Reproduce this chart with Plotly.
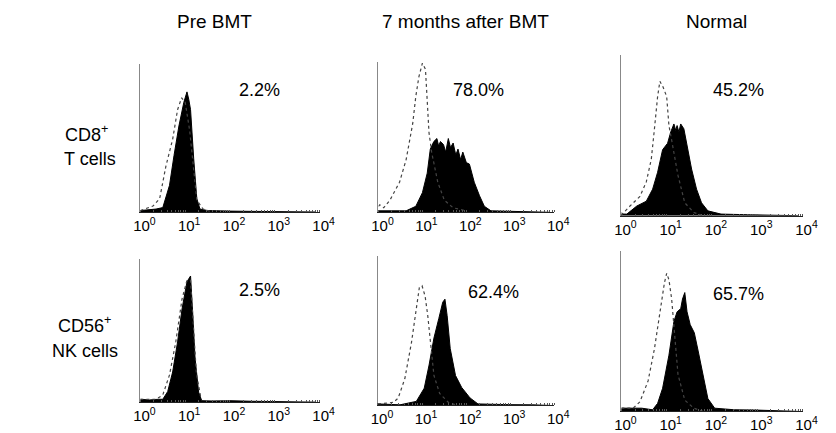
import plotly.graph_objects as go

# ---------------- data (log10 fluorescence, relative count) ----------------
col_titles = ["Pre BMT", "7 months after BMT", "Normal"]
row_titles = [["CD8<sup>+</sup>", "T cells"], ["CD56<sup>+</sup>", "NK cells"]]
percents = ["2.2%", "78.0%", "45.2%", "2.5%", "62.4%", "65.7%"]
tick_vals = [1, 10, 100, 1000, 10000]
tick_text = ["10<sup>0</sup>", "10<sup>1</sup>", "10<sup>2</sup>", "10<sup>3</sup>", "10<sup>4</sup>"]

# Panel 1: CD8, Pre BMT
p1_fill_log = [0.0, 0.2, 0.35, 0.5, 0.65, 0.75, 0.86, 0.97, 1.04, 1.08, 1.12, 1.19, 1.26, 1.33, 1.5, 2.0, 2.5, 3.0, 3.9]
p1_fill_h   = [0.01, 0.015, 0.02, 0.03, 0.18, 0.38, 0.58, 0.74, 0.81, 0.76, 0.69, 0.36, 0.09, 0.02, 0.01, 0.006, 0.004, 0.003, 0.0]
p1_dot_log  = [0.0, 0.1, 0.28, 0.43, 0.57, 0.72, 0.83, 0.92, 1.0, 1.1, 1.18, 1.26, 1.4, 1.6]
p1_dot_h    = [0.01, 0.02, 0.04, 0.09, 0.31, 0.49, 0.69, 0.77, 0.74, 0.55, 0.30, 0.08, 0.02, 0.0]

# Panel 2: CD8, 7 months after BMT
p2_fill_log = [0.0, 0.3, 0.63, 0.85, 1.0, 1.11, 1.18, 1.26, 1.33, 1.37, 1.41, 1.48, 1.53, 1.59, 1.64, 1.70, 1.76, 1.81, 1.87, 1.92, 2.0, 2.07, 2.18, 2.30, 2.41, 2.56, 3.0, 3.5, 3.9]
p2_fill_h   = [0.01, 0.01, 0.01, 0.04, 0.13, 0.26, 0.42, 0.47, 0.49, 0.44, 0.47, 0.45, 0.40, 0.49, 0.43, 0.46, 0.38, 0.42, 0.35, 0.40, 0.33, 0.32, 0.20, 0.11, 0.04, 0.01, 0.006, 0.004, 0.0]
p2_dot_log  = [0.0, 0.03, 0.12, 0.26, 0.48, 0.63, 0.78, 0.85, 0.92, 1.0, 1.07, 1.11, 1.15, 1.21, 1.35, 1.5, 1.7, 2.0]
p2_dot_h    = [0.04, 0.05, 0.03, 0.08, 0.20, 0.35, 0.59, 0.77, 0.90, 0.99, 0.95, 0.75, 0.53, 0.40, 0.20, 0.08, 0.03, 0.01]

# Panel 3: CD8, Normal
p3_fill_log = [0.0, 0.12, 0.34, 0.55, 0.69, 0.80, 0.91, 1.02, 1.09, 1.16, 1.20, 1.23, 1.27, 1.31, 1.38, 1.45, 1.55, 1.66, 1.77, 1.91, 2.2, 2.8, 3.3, 3.9]
p3_fill_h   = [0.01, 0.01, 0.06, 0.09, 0.165, 0.27, 0.41, 0.45, 0.52, 0.57, 0.53, 0.56, 0.52, 0.57, 0.54, 0.43, 0.29, 0.165, 0.08, 0.03, 0.01, 0.006, 0.004, 0.0]
p3_dot_log  = [0.0, 0.02, 0.19, 0.41, 0.55, 0.66, 0.73, 0.80, 0.85, 0.92, 1.0, 1.05, 1.11, 1.25, 1.4, 1.6, 1.8]
p3_dot_h    = [0.02, 0.01, 0.06, 0.12, 0.21, 0.35, 0.54, 0.74, 0.835, 0.80, 0.74, 0.56, 0.47, 0.25, 0.08, 0.02, 0.0]

# Panel 4: CD56, Pre BMT
p4_fill_log = [0.0, 0.2, 0.4, 0.5, 0.61, 0.72, 0.83, 0.93, 1.04, 1.12, 1.17, 1.22, 1.30, 1.37, 1.6, 2.0, 2.5, 3.0, 3.9]
p4_fill_h   = [0.02, 0.015, 0.02, 0.02, 0.074, 0.21, 0.42, 0.65, 0.84, 0.88, 0.61, 0.31, 0.07, 0.01, 0.008, 0.01, 0.006, 0.004, 0.0]
p4_dot_log  = [0.0, 0.14, 0.35, 0.50, 0.65, 0.79, 0.93, 1.04, 1.12, 1.18, 1.25, 1.35]
p4_dot_h    = [0.02, 0.02, 0.02, 0.05, 0.19, 0.42, 0.72, 0.85, 0.85, 0.55, 0.20, 0.03]

# Panel 5: CD56, 7 months after BMT
p5_fill_log = [0.0, 0.5, 0.87, 1.05, 1.16, 1.27, 1.38, 1.47, 1.52, 1.57, 1.64, 1.76, 1.90, 2.09, 2.27, 2.6, 3.0, 3.5, 3.9]
p5_fill_h   = [0.01, 0.004, 0.027, 0.115, 0.27, 0.45, 0.58, 0.69, 0.71, 0.60, 0.38, 0.20, 0.12, 0.05, 0.01, 0.006, 0.005, 0.004, 0.0]
p5_dot_log  = [0.0, 0.35, 0.46, 0.61, 0.76, 0.87, 0.94, 1.0, 1.07, 1.13, 1.20, 1.27, 1.4, 1.6, 1.8]
p5_dot_h    = [0.01, 0.02, 0.05, 0.18, 0.42, 0.65, 0.79, 0.80, 0.73, 0.60, 0.38, 0.20, 0.08, 0.02, 0.0]

# Panel 6: CD56, Normal
p6_fill_log = [0.0, 0.2, 0.45, 0.69, 0.80, 0.91, 1.05, 1.16, 1.23, 1.31, 1.35, 1.40, 1.45, 1.52, 1.61, 1.70, 1.81, 1.91, 2.06, 2.5, 3.0, 3.5, 3.9]
p6_fill_h   = [0.02, 0.02, 0.02, 0.01, 0.05, 0.144, 0.35, 0.56, 0.62, 0.64, 0.70, 0.74, 0.62, 0.54, 0.49, 0.37, 0.21, 0.08, 0.02, 0.01, 0.008, 0.006, 0.0]
p6_dot_log  = [0.0, 0.02, 0.26, 0.41, 0.59, 0.73, 0.85, 0.95, 1.0, 1.05, 1.11, 1.18, 1.25, 1.4, 1.6, 1.8]
p6_dot_h    = [0.02, 0.02, 0.02, 0.06, 0.19, 0.39, 0.62, 0.80, 0.86, 0.82, 0.70, 0.47, 0.23, 0.07, 0.02, 0.0]

fill_logs = [p1_fill_log, p2_fill_log, p3_fill_log, p4_fill_log, p5_fill_log, p6_fill_log]
fill_hs = [p1_fill_h, p2_fill_h, p3_fill_h, p4_fill_h, p5_fill_h, p6_fill_h]
dot_logs = [p1_dot_log, p2_dot_log, p3_dot_log, p4_dot_log, p5_dot_log, p6_dot_log]
dot_hs = [p1_dot_h, p2_dot_h, p3_dot_h, p4_dot_h, p5_dot_h, p6_dot_h]

# ---------------- layout geometry (pixels) ----------------
W, H = 836, 433
def px(x):
    return x / W
def py(y):
    return 1 - y / H

# (left, right, baseline, top) per panel
boxes = [
    (137, 321, 213, 64), (381.5, 562, 213.3, 62), (631, 817, 216.7, 55),
    (137, 321, 404, 260), (381, 562, 407.3, 257), (631, 817, 413.3, 252),
]
pct_pos = [(259, 90), (484, 90), (751, 90), (259, 291), (500, 293), (751, 295)]

fig = go.Figure()
FONT = "Liberation Sans, Arial, sans-serif"
layout = dict(width=W, height=H, margin=dict(l=0, r=0, t=0, b=0),
              paper_bgcolor="white", plot_bgcolor="white", showlegend=False,
              font=dict(family=FONT, color="black"))

for i in range(6):
    k = "" if i == 0 else str(i + 1)
    xa, ya = "x" + k, "y" + k
    fig.add_trace(go.Scatter(x=[10 ** v for v in fill_logs[i]], y=fill_hs[i], mode="lines",
                             line=dict(color="black", width=1), fill="tozeroy", fillcolor="black",
                             xaxis=xa, yaxis=ya, hoverinfo="skip"))
    fig.add_trace(go.Scatter(x=[10 ** v for v in dot_logs[i]], y=dot_hs[i], mode="lines",
                             line=dict(color="#444", width=1.2, dash="dot"),
                             xaxis=xa, yaxis=ya, hoverinfo="skip"))
    l, r, b, t = boxes[i]
    layout["xaxis" + k] = dict(domain=[px(l), px(r)], anchor=ya, type="log", range=[0, 4],
                               tickvals=tick_vals, ticktext=tick_text, ticks="",
                               tickfont=dict(size=15, family=FONT), ticklabelshift=4,
                               showline=True, linecolor="#222", linewidth=1,
                               showgrid=False, zeroline=False, fixedrange=True,
                               minor=dict(ticks="inside", ticklen=2, tickcolor="#555", dtick="D1", showgrid=False))
    layout["yaxis" + k] = dict(domain=[py(b), py(t)], anchor=xa, range=[0, 1],
                               showline=True, linecolor="#888", linewidth=1,
                               showticklabels=False, ticks="", showgrid=False, zeroline=False, fixedrange=True)

def ann(txt, x, y, size):
    return dict(text=txt, x=px(x), y=py(y), xref="paper", yref="paper", xanchor="center",
                yanchor="middle", showarrow=False, font=dict(size=size, family=FONT))

annotations = []
col_x = [213, 471, 729]
for j, txt in enumerate(col_titles):
    annotations.append(ann(txt, col_x[j], 22, 19))
row_y = [(134, 160), (326, 353)]
row_x = [(82, 85), (80, 80)]
for i, lines in enumerate(row_titles):
    for m, txt in enumerate(lines):
        annotations.append(ann(txt, row_x[i][m], row_y[i][m], 18))
for i, txt in enumerate(percents):
    annotations.append(ann(txt, pct_pos[i][0], pct_pos[i][1], 18))
layout["annotations"] = annotations
fig.update_layout(**layout)
fig.write_html("out.html", post_script="document.body.style.margin='0';",
               config={"displayModeBar": False, "staticPlot": True})
